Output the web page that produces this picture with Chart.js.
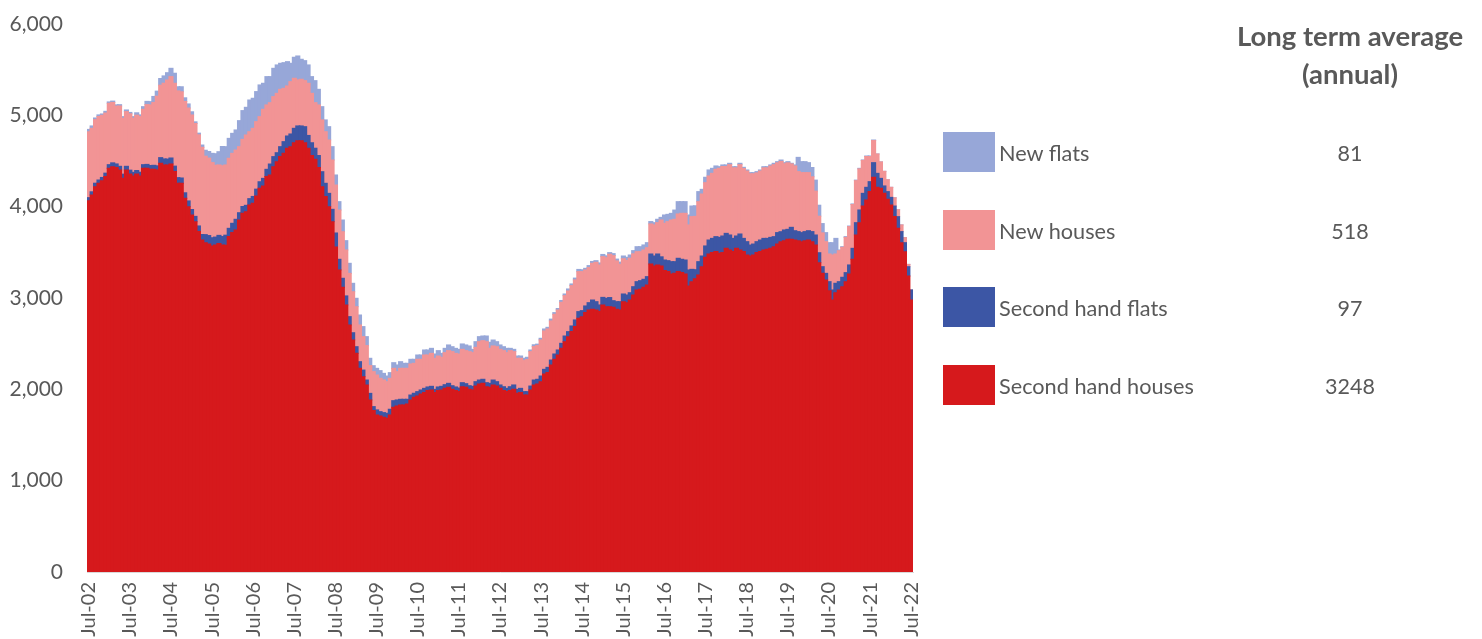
<!DOCTYPE html>
<html>
<head>
<meta charset="utf-8">
<script src="https://cdn.jsdelivr.net/npm/chart.js@4"></script>
<style>
  html, body { margin: 0; padding: 0; background: #fff; overflow: hidden; }
  #wrap { position: relative; width: 1482px; height: 639px; font-family: Lato, "Open Sans", sans-serif; color: #595959; }
  #chart { position: absolute; left: 0; top: 0; }
  .hdr { position: absolute; left: 1200px; width: 300px; top: 17px; text-align: center; font-weight: bold; font-size: 27.5px; line-height: 38px; }
  .box { position: absolute; left: 943px; width: 52px; height: 40px; }
  .lab { position: absolute; left: 999px; height: 40px; line-height: 42px; font-size: 21.7px; white-space: nowrap; }
  .val { position: absolute; left: 1200px; width: 300px; height: 40px; line-height: 42px; font-size: 21.5px; text-align: center; }
</style>
</head>
<body>
<div id="wrap">
  <canvas id="chart" width="1482" height="639"></canvas>
  <div class="hdr">Long term average<br>(annual)</div>
  <div id="legend"></div>
</div>
<script>
// monthly sales, Jul-02 .. Jul-22 (stacked bottom to top)
const secondHandHouses = [
  4066,4128,4219,4256,4285,4329,4420,4438,4430,4402,4311,4402,4358,4336,4358,4336,4420,4420,4411,4411,
  4402,4475,4457,4457,4468,4384,4256,4256,4092,4000,3909,3836,3727,3635,3606,3592,3570,3581,3596,3581,
  3577,3672,3716,3745,3854,3927,3945,4018,4037,4117,4201,4227,4329,4347,4438,4493,4548,4584,4639,4657,
  4701,4723,4723,4701,4640,4560,4520,4430,4219,4110,4000,3836,3559,3307,3117,2924,2705,2540,2394,2230,
  2139,2048,1884,
  1767,1720,1708,1694,1683,1720,1803,1818,1829,1829,1840,1884,1913,1927,1949,1964,1986,1993,1964,1986,
  1993,2011,2022,2000,1986,1975,2029,2022,2000,1993,2037,2059,2066,2029,2022,2048,2037,2011,1986,1975,
  1986,2000,1957,1964,1938,1938,1993,2048,2059,2084,2168,2183,2267,2329,2376,2449,2522,2577,2632,2687,
  2778,2796,2840,2869,2876,2869,2851,2924,2905,2905,2898,2876,2869,2960,2949,2978,3033,3088,3095,3117,3143,
  3373,3351,3362,3351,3300,3289,3263,3270,3289,3278,3263,3132,3179,3210,3252,3343,3446,3482,3497,3508,
  3489,3497,3544,3526,3508,3544,3526,3508,3471,3460,3471,3497,3508,3526,3533,3544,3562,3591,3617,3628,3643,
  3643,3636,3628,3617,3628,3636,3617,3581,3387,3270,3197,3080,2978,3058,3088,3124,3179,3263,3424,3690,
  3825,4007,4073,4165,4322,4212,4201,4146,4081,4018,3891,3763,3606,3507,3241,2978
];
const secondHandFlats = [
  33,35,38,36,35,38,40,42,38,40,45,40,42,40,38,41,40,43,40,42,
  45,62,66,64,65,60,62,58,60,63,60,58,62,60,88,92,90,86,90,92,
  111,91,102,117,80,75,70,70,75,75,72,83,80,120,110,98,109,128,135,139,
  157,161,161,175,140,140,120,130,164,146,146,135,153,117,99,99,91,80,73,73,
  72,54,72,
  44,55,48,51,55,62,73,66,62,62,51,54,44,48,44,47,40,40,36,40,
  40,40,44,40,40,40,44,40,40,40,47,43,44,44,44,54,47,37,43,36,
  43,48,43,47,37,37,43,54,51,62,51,58,54,58,55,55,62,55,62,73,
  73,66,73,80,102,91,73,83,92,100,73,84,91,84,84,80,91,91,95,88,91,
  109,109,120,100,116,120,135,128,146,146,153,175,135,100,146,117,124,153,156,164,
  175,182,164,164,145,135,175,145,146,120,120,120,127,127,120,120,110,125,109,117,109,
  131,101,99,99,99,101,110,109,109,73,73,99,110,103,91,103,99,99,120,135,
  139,139,139,109,160,153,109,81,84,84,116,128,121,99,102,110
];
const newHouses = [
  721,695,696,695,680,658,672,661,632,660,612,599,617,592,606,610,606,654,663,688,
  763,793,829,866,891,907,950,944,1000,1017,1035,1017,998,955,859,848,823,786,771,775,
  769,767,766,758,723,735,770,733,746,739,713,756,705,672,657,650,628,584,548,573,
  548,504,511,504,571,541,499,554,567,565,584,540,525,539,510,503,474,449,438,402,
  366,377,304,
  383,382,365,358,346,339,354,310,339,339,339,340,328,354,336,365,350,361,340,339,
  318,351,358,373,368,372,365,362,373,369,376,420,423,449,383,373,383,390,395,391,
  395,365,340,329,340,351,377,366,369,395,420,420,428,435,438,449,442,445,442,438,
  438,427,394,384,402,431,438,446,445,474,493,446,409,386,378,378,360,328,317,321,317,
  329,340,343,403,402,427,456,464,485,503,511,493,577,584,657,679,693,701,712,737,
  756,761,732,770,772,746,759,765,773,780,769,753,755,772,772,781,788,764,769,725,728,
  694,709,657,657,646,636,600,480,400,370,347,303,383,321,339,328,386,420,480,460,
  450,360,337,275,242,212,180,160,130,110,90,75,73,55,25,0
];
const newFlats = [
  26,26,18,18,15,19,15,15,15,15,18,18,15,18,26,18,29,36,36,66,
  55,73,80,80,91,110,45,55,40,45,35,18,18,25,65,72,101,127,145,211,
  200,218,219,220,285,315,303,347,329,329,347,285,310,285,310,311,285,281,266,201,
  230,262,219,219,201,183,241,171,145,129,146,146,110,92,128,102,110,92,92,109,
  110,98,80,
  65,73,84,72,62,62,62,73,73,55,55,51,44,47,47,55,55,55,47,59,
  43,47,62,54,55,51,59,62,62,36,62,55,51,62,66,65,55,48,43,47,
  25,25,25,25,25,25,18,20,16,18,22,18,20,18,16,20,18,22,18,20,
  24,20,18,22,20,18,22,24,20,18,22,20,24,30,35,35,35,55,55,55,55,
  26,25,37,29,91,80,73,101,135,128,128,109,116,116,110,51,59,66,55,37,
  18,17,17,15,13,13,15,13,12,13,13,14,12,13,13,12,15,13,16,12,13,
  7,11,156,120,120,109,102,121,120,102,99,124,135,171,8,7,8,6,6,6,
  6,6,6,6,6,0,0,0,0,0,0,0,0,0,0,0
];

const seriesNames = ['Second hand houses', 'Second hand flats', 'New houses', 'New flats'];
const seriesColors = ['#D6191C', '#3C56A5', '#F29495', '#97A7D8'];
const longTermAverage = [3248, 97, 518, 81];

const monthNames = ['Jan','Feb','Mar','Apr','May','Jun','Jul','Aug','Sep','Oct','Nov','Dec'];
const months = [];
for (let i = 0; i < secondHandHouses.length; i++) {
    const m = (6 + i) % 12;
    const y = 2002 + Math.floor((6 + i) / 12);
    months.push(monthNames[m] + '-' + String(y % 100).padStart(2, '0'));
}

// legend / table on the right, top row is the top of the stack
const legendRows = [3, 2, 1, 0];
const rowTops = [132, 210, 287, 365];
const legend = document.getElementById('legend');
legendRows.forEach((s, i) => {
    const top = rowTops[i];
    legend.insertAdjacentHTML('beforeend',
        `<div class="box" style="top:${top}px;background:${seriesColors[s]}"></div>` +
        `<div class="lab" style="top:${top}px">${seriesNames[s]}</div>` +
        `<div class="val" style="top:${top}px">${longTermAverage[s]}</div>`);
});

Chart.defaults.font.family = 'Lato, "Open Sans", sans-serif';
Chart.defaults.color = '#595959';

const allSeries = [secondHandHouses, secondHandFlats, newHouses, newFlats];

new Chart(document.getElementById('chart'), {
    type: 'bar',
    data: {
        labels: months,
        datasets: allSeries.map((data, i) => ({
            label: seriesNames[i],
            data: data,
            backgroundColor: seriesColors[i],
            borderWidth: 0,
            inflateAmount: 0.5,
            barPercentage: 1.2,
            categoryPercentage: 1
        }))
    },
    options: {
        responsive: false,
        animation: false,
        devicePixelRatio: 1,
        layout: { padding: { left: 0, right: 569, top: 24, bottom: 0 } },
        plugins: { legend: { display: false }, tooltip: { enabled: false } },
        scales: {
            x: {
                stacked: true,
                grid: { display: false, drawTicks: false },
                border: { display: true, color: '#D9D9D9', width: 1 },
                ticks: {
                    autoSkip: false,
                    maxRotation: 90,
                    minRotation: 90,
                    padding: 10,
                    font: { size: 20 },
                    color: '#595959',
                    callback: function(val, idx) {
                        return idx % 12 === 0 ? this.getLabelForValue(val) : '';
                    }
                },
                afterFit: s => { s.height = 67; }
            },
            y: {
                stacked: true,
                min: 0,
                max: 6000,
                grid: { display: false, drawTicks: true, tickLength: 20 },
                border: { display: false },
                ticks: {
                    stepSize: 1000,
                    padding: 4,
                    font: { size: 21 },
                    color: '#595959',
                    callback: v => v.toLocaleString('en-US')
                },
                afterFit: s => { s.width = 87; }
            }
        }
    }
});
</script>
</body>
</html>
